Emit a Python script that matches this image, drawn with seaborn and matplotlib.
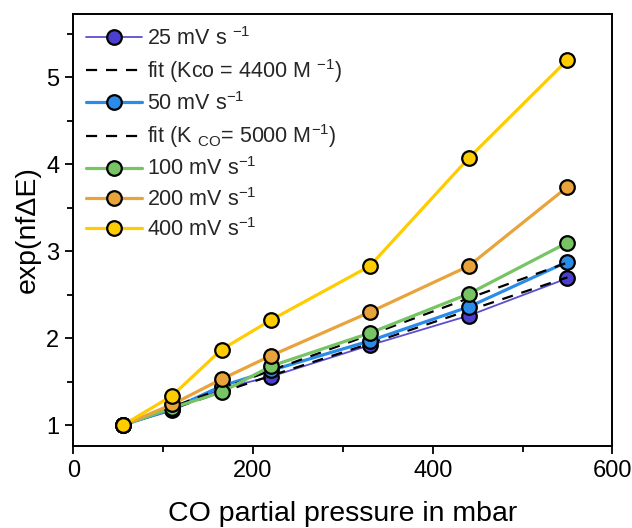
import matplotlib
matplotlib.use("Agg")
import matplotlib.pyplot as plt
import seaborn as sns
import pandas as pd
from matplotlib.ticker import MultipleLocator

sns.set_theme(style="ticks")
plt.rcParams['font.family'] = ['Liberation Sans', 'DejaVu Sans']
plt.rcParams['mathtext.fontset'] = 'custom'
plt.rcParams['mathtext.rm'] = 'Liberation Sans'
plt.rcParams['mathtext.it'] = 'Liberation Sans'

pressure = [55, 110, 165, 220, 330, 440, 550]
v25 = [1.00, 1.17, 1.42, 1.56, 1.92, 2.26, 2.69]
fit4400 = [1.00, 1.19, 1.38, 1.57, 1.94, 2.32, 2.70]
v50 = [1.00, 1.19, 1.45, 1.63, 1.97, 2.36, 2.88]
fit5000 = [1.00, 1.21, 1.42, 1.63, 2.04, 2.46, 2.87]
v100 = [1.00, 1.20, 1.38, 1.68, 2.06, 2.51, 3.10]
v200 = [1.00, 1.24, 1.53, 1.80, 2.30, 2.83, 3.74]
v400 = [1.00, 1.34, 1.87, 2.21, 2.83, 4.07, 5.20]

labels = ["25 mV s $^{-1}$", "fit (Kco = 4400 M $^{-1}$)", "50 mV s$^{-1}$",
          "fit (K $_{CO}$= 5000 M$^{-1}$)", "100 mV s$^{-1}$", "200 mV s$^{-1}$",
          "400 mV s$^{-1}$"]

fig = plt.figure(figsize=(6.32, 5.28), dpi=100)
ax = fig.add_axes([0.116, 0.155, 0.853, 0.819])

series = [
    (v25, labels[0], dict(color="#5a4fd0", lw=1.3, marker="o", mfc="#4a3fcf")),
    (fit4400, labels[1], dict(color="black", lw=1.6, ls=(0, (5, 4)))),
    (v50, labels[2], dict(color="#2b8be8", lw=2.3, marker="o", mfc="#2b8be8")),
    (fit5000, labels[3], dict(color="black", lw=1.6, ls=(0, (5, 4)))),
    (v100, labels[4], dict(color="#77c464", lw=2.3, marker="o", mfc="#77c464")),
    (v200, labels[5], dict(color="#e8a33a", lw=2.3, marker="o", mfc="#e8a33a")),
    (v400, labels[6], dict(color="#ffcc00", lw=2.3, marker="o", mfc="#ffcc00")),
]

for vals, lab, kw in series:
    df = pd.DataFrame({"p": pressure, "y": vals})
    color = kw.pop("color")
    lw = kw.pop("lw")
    extra = {}
    if "marker" in kw:
        extra = dict(marker="o", markersize=10.5, markeredgecolor="black",
                     markeredgewidth=1.6, markerfacecolor=kw["mfc"])
    ls = kw.get("ls", "-")
    sns.lineplot(data=df, x="p", y="y", ax=ax, color=color, linewidth=lw,
                 linestyle=ls, label=lab, errorbar=None, sort=False, **extra)

ax.set_xlim(0, 600)
ax.set_ylim(0.76, 5.73)
ax.xaxis.set_major_locator(MultipleLocator(200))
ax.xaxis.set_minor_locator(MultipleLocator(100))
ax.yaxis.set_major_locator(MultipleLocator(1))
ax.yaxis.set_minor_locator(MultipleLocator(0.5))
ax.tick_params(axis="both", which="major", direction="out", length=6, width=1.3,
               labelsize=17, color="black", labelcolor="black", pad=4,
               top=False, right=False)
ax.tick_params(axis="both", which="minor", direction="out", length=4, width=1.3,
               color="black", top=False, right=False)
for s in ax.spines.values():
    s.set_visible(True)
    s.set_color("black")
    s.set_linewidth(1.4)

ax.set_xlabel("CO partial pressure in mbar", fontsize=20.5, color="black", labelpad=14)
ax.set_ylabel("exp(nf\u0394E)", fontsize=20.5, color="black", labelpad=4)

leg = ax.legend(loc="upper left", frameon=False, fontsize=15.5, handlelength=2.6,
                handletextpad=0.2, labelspacing=0.34, borderaxespad=0.2,
                bbox_to_anchor=(0.0, 1.0))

fig.savefig("out.png", dpi=100)
